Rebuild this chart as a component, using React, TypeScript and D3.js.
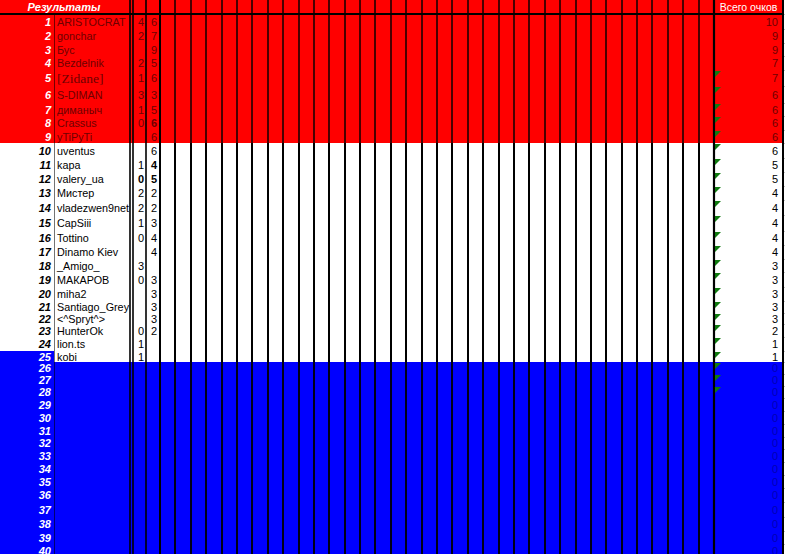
import React, { useEffect, useRef } from 'react';
import * as d3 from 'd3';

// table contents
const rowLabels = ['1', '2', '3', '4', '5', '6', '7', '8', '9', '10', '11', '12', '13', '14', '15', '16', '17', '18', '19', '20',
  '21', '22', '23', '24', '25', '26', '27', '28', '29', '30', '31', '32', '33', '34', '35', '36', '37', '38', '39', '40'];

const players = ['ARISTOCRAT', 'gonchar', 'Бус', 'Bezdelnik', '[Zidane]', 'S-DIMAN', 'диманыч', 'Crassus', 'yTiPyTi',
  'uventus', 'kapa', 'valery_ua', 'Мистер', 'vladezwen9net', 'CapSiii', 'Tottino', 'Dinamo Kiev', '_Amigo_', 'МАКАРОВ',
  'miha2', 'Santiago_Grey', '<^Spryt^>', 'HunterOk', 'lion.ts', 'kobi'];

const pointsRound1: (number | null)[] = [4, 2, null, 2, 1, 3, 1, 0, null, null, 1, 0, 2, 2, 1, 0, null, 3, 0, null, null, null, 0, 1, 1];
const pointsRound2: (number | null)[] = [6, 7, 9, 5, 6, 3, 5, 6, 6, 6, 4, 5, 2, 2, 3, 4, 4, null, 3, 3, 3, 3, 2, null, null];

const totals = [10, 9, 9, 7, 7, 6, 6, 6, 6, 6, 5, 5, 4, 4, 4, 4, 4, 3, 3, 3, 3, 3, 2, 1, 1,
  0, 0, 0, 0, 0, 0, 0, 0, 0, 0, 0, 0, 0, 0, 0];

// rows carrying the little green corner marker in the totals column
const flaggedRows = [5, 6, 7, 8, 9, 10, 11, 12, 13, 14, 15, 16, 17, 18, 19, 20, 21, 22, 23, 24, 25, 26, 27, 28];

// layout
const W = 785;
const H = 554;
const headerH = 14;
const rowHeights = [15, 14, 13, 14, 16, 17, 13, 14, 13, 15, 14, 14, 14, 15, 16, 14, 14, 13, 15, 14, 12, 11, 13, 14, 11,
  12, 12, 12, 13, 13, 13, 12, 13, 13, 13, 14, 15, 14, 13, 14];
const redRows = 9;
const whiteRows = 25;
const emptyCols = 36;
const boldCells = new Set(['8:2', '11:2', '12:1', '12:2']);

const RED = '#ff0000';
const BLUE = '#0000ff';
const FONT = '"Liberation Sans", Arial, sans-serif';

const App: React.FC = () => {
  const svgRef = useRef<SVGSVGElement>(null);

  useEffect(() => {
    if (!svgRef.current) return;
    const svg = d3.select(svgRef.current);
    svg.selectAll('*').remove();

    const tops = [headerH, ...Array.from(d3.cumsum(rowHeights)).map(v => v + headerH)];
    const rowTop = (i: number) => tops[i];
    const rowMid = (i: number) => tops[i] + rowHeights[i] / 2;

    const x = { num0: 0, num1: 54, name1: 129, a1: 146, b1: 159, tot0: 713, tot1: 782 };
    const gridX = d3.scaleLinear().domain([0, emptyCols]).range([x.b1, x.tot0]);

    const redEnd = rowTop(redRows);
    const whiteEnd = rowTop(whiteRows);

    // background bands
    svg.append('rect').attr('x', 0).attr('y', 0).attr('width', W).attr('height', H).attr('fill', '#fff');
    svg.append('rect').attr('x', 0).attr('y', 0).attr('width', x.tot1).attr('height', redEnd).attr('fill', RED);
    svg.append('rect').attr('x', 0).attr('y', whiteEnd).attr('width', x.tot1).attr('height', H - whiteEnd).attr('fill', BLUE);
    // row 25 number cell is blue too
    svg.append('rect').attr('x', 0).attr('y', rowTop(24)).attr('width', x.num1).attr('height', rowHeights[24]).attr('fill', BLUE);

    // excel gridline stubs past the table edge
    svg.selectAll('line.stub')
      .data(tops)
      .enter()
      .append('line')
      .attr('x1', x.tot1).attr('x2', W)
      .attr('y1', d => d + 0.5).attr('y2', d => d + 0.5)
      .attr('stroke', '#c0c0c0');

    // thin column grid
    const segs = [
      { y0: 0, y1: redEnd, color: '#4a0000' },
      { y0: redEnd, y1: whiteEnd, color: '#000' },
      { y0: whiteEnd, y1: H, color: '#000018' },
    ];
    const gridCols = d3.range(1, emptyCols);
    segs.forEach(s => {
      svg.append('g').selectAll('line')
        .data(gridCols)
        .enter()
        .append('line')
        .attr('x1', d => Math.round(gridX(d)) + 1).attr('x2', d => Math.round(gridX(d)) + 1)
        .attr('y1', s.y0).attr('y2', s.y1)
        .attr('stroke', s.color)
        .attr('stroke-width', 2);
    });

    // separator between number and name
    svg.append('line')
      .attr('x1', x.num1 + 0.5).attr('x2', x.num1 + 0.5)
      .attr('y1', headerH).attr('y2', H)
      .attr('stroke', '#000').attr('stroke-opacity', 0.55);

    // heavy borders
    const heavy = [
      { x: 130, w: 1.6 }, { x: 133, w: 1.6 }, { x: x.a1, w: 1.6 }, { x: x.b1 + 1, w: 2 },
      { x: x.tot0 + 1, w: 2.2 }, { x: x.tot1 + 1, w: 2 },
    ];
    svg.append('g').selectAll('line')
      .data(heavy)
      .enter()
      .append('line')
      .attr('x1', d => d.x).attr('x2', d => d.x)
      .attr('y1', 0).attr('y2', H)
      .attr('stroke', '#000')
      .attr('stroke-width', d => d.w);

    svg.append('line')
      .attr('x1', 0).attr('x2', x.tot1 + 2)
      .attr('y1', headerH).attr('y2', headerH)
      .attr('stroke', '#000').attr('stroke-width', 2);

    // header texts
    svg.append('text')
      .attr('x', 64).attr('y', 11)
      .attr('text-anchor', 'middle')
      .attr('font-family', FONT).attr('font-size', 11)
      .attr('font-weight', 'bold').attr('font-style', 'italic')
      .attr('fill', '#fff')
      .text('Результаты');
    svg.append('text')
      .attr('x', (x.tot0 + x.tot1) / 2 + 1).attr('y', 11)
      .attr('text-anchor', 'middle')
      .attr('font-family', FONT).attr('font-size', 10.5)
      .attr('fill', '#fff')
      .text('Всего очков');

    // row numbers
    svg.append('g').selectAll('text')
      .data(rowLabels)
      .enter()
      .append('text')
      .attr('x', 51)
      .attr('y', (_, i) => rowMid(i) + 4)
      .attr('text-anchor', 'end')
      .attr('font-family', FONT).attr('font-size', 11)
      .attr('font-weight', 'bold').attr('font-style', 'italic')
      .attr('fill', (_, i) => (i < redRows || i >= whiteRows - 1 ? '#fff' : '#000'))
      .text(d => d);

    const inkFor = (i: number) => (i < redRows ? '#6e0000' : '#000');

    // player names
    svg.append('g').selectAll('text')
      .data(players)
      .enter()
      .append('text')
      .attr('x', 57)
      .attr('y', (d, i) => rowMid(i) + (d === '[Zidane]' ? 5 : 4))
      .attr('font-family', d => (d === '[Zidane]' ? '"Liberation Serif", "Times New Roman", serif' : FONT))
      .attr('font-size', d => (d === '[Zidane]' ? 13.5 : 10.8))
      .attr('fill', (_, i) => inkFor(i))
      .text(d => d);

    // round columns
    const rounds = [
      { values: pointsRound1, right: x.a1 - 2, key: 1 },
      { values: pointsRound2, right: x.b1 - 2, key: 2 },
    ];
    rounds.forEach(r => {
      svg.append('g').selectAll('text')
        .data(r.values)
        .enter()
        .append('text')
        .attr('x', r.right)
        .attr('y', (_, i) => rowMid(i) + 4)
        .attr('text-anchor', 'end')
        .attr('font-family', FONT).attr('font-size', 11)
        .attr('font-weight', (_, i) => (boldCells.has(`${i + 1}:${r.key}`) ? 'bold' : 'normal'))
        .attr('fill', (_, i) => inkFor(i))
        .text(d => (d === null ? '' : String(d)));
    });

    // totals
    svg.append('g').selectAll('text')
      .data(totals)
      .enter()
      .append('text')
      .attr('x', 778)
      .attr('y', (_, i) => rowMid(i) + 4)
      .attr('text-anchor', 'end')
      .attr('font-family', FONT).attr('font-size', 11)
      .attr('fill', (_, i) => (i < redRows ? '#6e0000' : i < whiteRows ? '#000' : '#0000b4'))
      .text(d => String(d));

    // green corner markers
    svg.append('g').selectAll('path')
      .data(flaggedRows)
      .enter()
      .append('path')
      .attr('d', r => {
        const t = rowTop(r - 1) + 1;
        const l = x.tot0 + 2;
        return `M${l},${t}L${l + 6},${t}L${l},${t + 6}Z`;
      })
      .attr('fill', '#107a10');
  }, []);

  return (
    <svg
      ref={svgRef}
      width={W}
      height={H}
      style={{ position: 'fixed', left: 0, top: 0, display: 'block' }}
    />
  );
};

export default App;
